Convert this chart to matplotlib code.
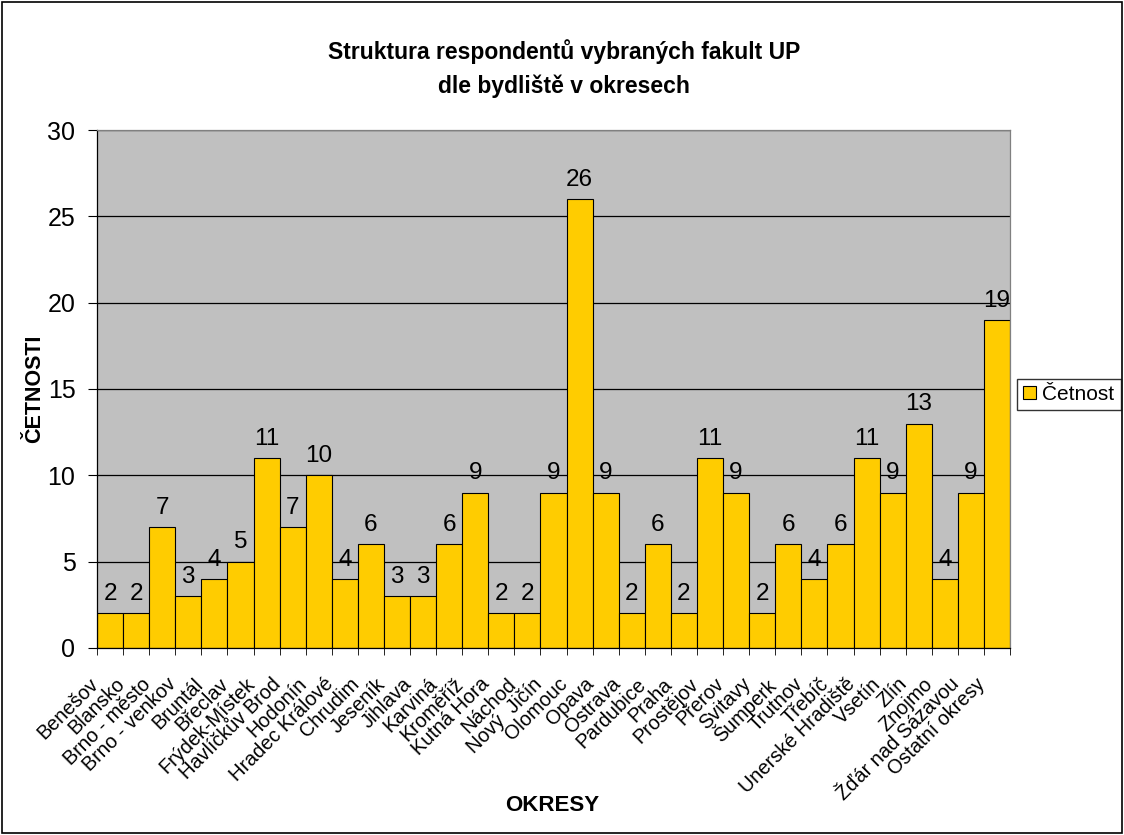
import matplotlib
matplotlib.use("Agg")
from matplotlib import pyplot as plt
from matplotlib.patches import Rectangle
from matplotlib.transforms import ScaledTranslation
import numpy as np

okresy = ["Benešov", "Blansko", "Brno - město", "Brno - venkov", "Bruntál", "Břeclav",
          "Frýdek-Místek", "Havlíčkův Brod", "Hodonín", "Hradec Králové", "Chrudim",
          "Jeseník", "Jihlava", "Karviná", "Kroměříž", "Kutná Hora", "Náchod",
          "Nový  Jičín", "Olomouc", "Opava", "Ostrava", "Pardubice", "Praha",
          "Prostějov", "Přerov", "Svitavy", "Šumperk", "Trutnov", "Třebíč",
          "Unerské Hradiště", "Vsetín", "Zlín", "Znojmo", "Žďár nad Sázavou",
          "Ostatní okresy"]
cetnost = [2, 2, 7, 3, 4, 5, 11, 7, 10, 4, 6, 3, 3, 6, 9, 2, 2, 9, 26, 9, 2, 6, 2,
           11, 9, 2, 6, 4, 6, 11, 9, 13, 4, 9, 19]
y_ticks = [0, 5, 10, 15, 20, 25, 30]

plt.rcParams["font.family"] = ["Liberation Sans", "DejaVu Sans"]

fig = plt.figure(figsize=(11.24, 8.35), dpi=100)
ax = fig.add_axes([0.0863, 0.224, 0.8123, 0.6203])
ax.set_facecolor("#C0C0C0")

pos = np.arange(len(cetnost))
bars = ax.bar(pos, cetnost, width=1.0, color="#FFCC00", edgecolor="black",
              linewidth=0.8, zorder=3, label="Četnost")
for x, v in zip(pos, cetnost):
  ax.annotate(str(v), (x, v), xytext=(0, 6), textcoords="offset points",
              ha="center", va="bottom", fontsize=17.5, zorder=4)

ax.set_xlim(-0.5, len(cetnost) - 0.5)
ax.set_ylim(0, 30)
ax.set_yticks(y_ticks)
ax.tick_params(axis="y", labelsize=18, length=6.5, pad=9, direction="out")
ax.yaxis.grid(True, color="black", linewidth=0.9, zorder=1)

ax.set_xticks(pos)
ax.set_xticklabels(okresy, rotation=45, ha="right", va="top", fontsize=14.3)
ax.tick_params(axis="x", length=0, pad=19)
# Excel-like: rotated labels end a little left of the bar centre
shift = ScaledTranslation(-8 / 100, 0, fig.dpi_scale_trans)
for lbl in ax.get_xticklabels():
  lbl.set_transform(lbl.get_transform() + shift)
ax.set_xticks(np.arange(-0.5, len(cetnost)), minor=True)
ax.tick_params(axis="x", which="minor", length=5)

for side, s in ax.spines.items():
  s.set_linewidth(0.9)
  s.set_color("black" if side in ("left", "bottom") else "#808080")
  s.set_zorder(5)

ax.set_ylabel("ČETNOSTI", fontsize=15.5, fontweight="bold", labelpad=2)
fig.text(0.491, 0.035, "OKRESY", ha="center", va="center", fontsize=16, fontweight="bold")
fig.text(0.502, 0.918, "Struktura respondentů vybraných fakult UP\ndle bydliště v okresech",
         ha="center", va="center", fontsize=16.5, fontweight="bold", linespacing=1.55)

leg = fig.legend(handles=[bars], loc="center left", bbox_to_anchor=(0.905, 0.5275),
                 fontsize=15, frameon=True, fancybox=False, edgecolor="black",
                 handlelength=0.6, handleheight=0.6, handletextpad=0.3,
                 borderpad=0.3, borderaxespad=0)
leg.get_frame().set_linewidth(1.0)

fig.patches.append(Rectangle((0.002, 0.002), 0.996, 0.996, transform=fig.transFigure,
                             fill=False, edgecolor="black", linewidth=1.2))

fig.savefig("out.png", dpi=100)
